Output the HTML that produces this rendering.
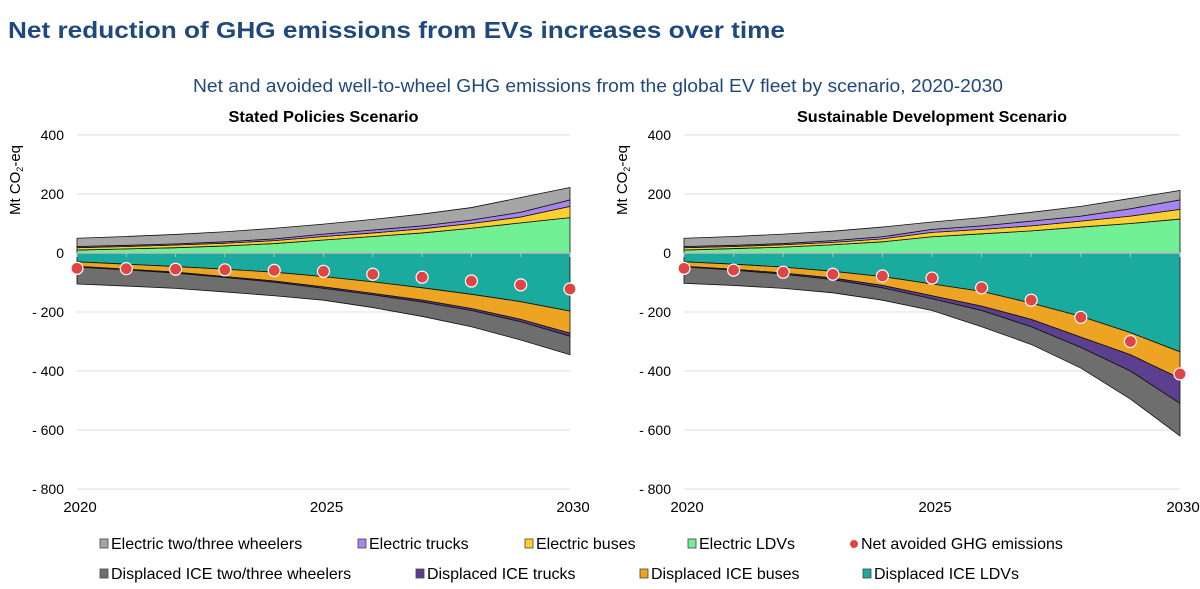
<!DOCTYPE html>
<html><head><meta charset="utf-8"><style>
body{margin:0;background:#fff;}
svg{display:block;font-family:"Liberation Sans",Arial,sans-serif;}
</style></head><body>
<svg id="chart" width="1200" height="589" viewBox="0 0 1200 589" xmlns="http://www.w3.org/2000/svg">
<text x="8" y="38" font-size="23" font-weight="bold" fill="#1f497d" textLength="777" lengthAdjust="spacingAndGlyphs">Net reduction of GHG emissions from EVs increases over time</text>
<text x="193" y="92" font-size="18" fill="#1f497d" textLength="810" lengthAdjust="spacingAndGlyphs">Net and avoided well-to-wheel GHG emissions from the global EV fleet by scenario, 2020-2030</text>
<g id="panels"></g>
<g id="legend"></g>
</svg>
<script>
const years=[2020,2021,2022,2023,2024,2025,2026,2027,2028,2029,2030];
const yTicks=[400,200,0,-200,-400,-600,-800];
const yTickLabels=["400","200","0","- 200","- 400","- 600","- 800"];
const xTickLabels=["2020","2025","2030"];
const seriesNames=["Electric LDVs","Electric buses","Electric trucks","Electric two/three wheelers","Displaced ICE LDVs","Displaced ICE buses","Displaced ICE trucks","Displaced ICE two/three wheelers"];
const colors=["#72f096","#fdd032","#a884ef","#a6a6a6","#1aaa9e","#eea423","#5c3f8e","#6e6e6e"];
// Stated Policies
const stepsLDV=[10,14,18,24,32,44,56,68,84,102,120];
const stepsBus=[8,8,9,9,10,12,12,14,16,20,38];
const stepsTruck=[4,4,4,5,6,8,10,10,12,16,22];
const steps23=[28,30,32,34,36,34,36,40,42,50,42];
const stepsIceLDV=[-30,-38,-46,-55,-65,-80,-98,-118,-140,-165,-197];
const stepsIceBus=[-15,-17,-19,-25,-30,-35,-39,-42,-48,-60,-75];
const stepsIceTruck=[-3,-2,-3,-3,-4,-5,-5,-6,-7,-8,-10];
const stepsIce23=[-57,-55,-52,-49,-46,-40,-43,-49,-55,-62,-63];
const stepsNet=[-52,-53,-55,-57,-59,-62,-72,-82,-95,-108,-122];
// Sustainable Development
const sdsLDV=[10,15,20,28,38,55,65,75,88,100,115];
const sdsBus=[8,7,8,8,10,15,15,17,20,25,33];
const sdsTruck=[4,4,4,6,7,10,12,16,17,25,32];
const sds23=[28,30,32,32,33,25,28,30,33,35,32];
const sdsIceLDV=[-30,-38,-48,-62,-80,-105,-130,-170,-215,-270,-335];
const sdsIceBus=[-15,-17,-20,-23,-30,-40,-50,-55,-70,-75,-90];
const sdsIceTruck=[-2,-3,-4,-5,-8,-10,-15,-25,-35,-55,-85];
const sdsIce23=[-56,-52,-48,-45,-42,-40,-55,-60,-70,-95,-110];
const sdsNet=[-52,-58,-65,-72,-78,-85,-118,-160,-218,-300,-410];

const NS="http://www.w3.org/2000/svg";
function mk(tag,attrs,parent){const e=document.createElementNS(NS,tag);for(const k in attrs)e.setAttribute(k,attrs[k]);parent.appendChild(e);return e;}
const panelsG=document.getElementById('panels');
const yScale=v=>253-(v)*59/200;
function drawPanel(x0,x1,title,titleLen,pos,neg,net,id){
  const g=mk('g',{},panelsG);
  
  
  const xScale=yr=>x0+(yr-2020)*(x1-x0)/10;
  const t=mk('text',{x:(x0+x1)/2,y:122,'font-size':16,'font-weight':'bold','text-anchor':'middle',fill:'#000',textLength:titleLen,lengthAdjust:'spacingAndGlyphs'},g);
  t.textContent=title;
  
  
  yTicks.forEach((v,i)=>{
    const l=mk('line',{x1:x0,x2:x1,y1:yScale(v),y2:yScale(v),stroke:'#dcdcdc','stroke-width':1},g);
    
    
    const tx=mk('text',{x:x0-13,y:yScale(v)+5,'font-size':14,'text-anchor':'end',fill:'#000'},g);
    tx.textContent=yTickLabels[i];
    
    
  });
  const yl=mk('text',{transform:`translate(${x0-57},180) rotate(-90)`,'font-size':15,'text-anchor':'middle',fill:'#000'},g);
  yl.innerHTML='Mt CO<tspan font-size="9" dy="3">2</tspan><tspan dy="-3">-eq</tspan>';
  
  
  [2020,2025,2030].forEach((yr,i)=>{
    const tx=mk('text',{x:xScale(yr)+3,y:512,'font-size':15,'text-anchor':'middle',fill:'#000'},g);
    tx.textContent=xTickLabels[i];
    
    
  });
  function stack(list,offset){
    let base=years.map(()=>0);
    list.forEach((arr,si)=>{
      const top=base.map((b,i)=>b+arr[i]);
      let d='M'+years.map((yr,i)=>xScale(yr)+','+yScale(top[i])).join(' L');
      d+=' L'+years.slice().reverse().map((yr,j)=>{const i=years.length-1-j;return xScale(yr)+','+yScale(base[i]);}).join(' L')+'Z';
      const p=mk('path',{d:d,fill:colors[si+offset],stroke:'#111','stroke-width':0.8},g);
      
      
      base=top;
    });
  }
  stack(pos,0);stack(neg,4);
  const zl=mk('line',{x1:x0,x2:x1,y1:yScale(0),y2:yScale(0),stroke:'#bbb','stroke-width':1.5},g);
  
  
  years.forEach((yr,i)=>{
    const tk=mk('line',{x1:xScale(yr),x2:xScale(yr),y1:yScale(0),y2:yScale(0)+4,stroke:'#bbb'},g);
    
    
  });
  net.forEach((v,i)=>{
    const c=mk('circle',{cx:xScale(years[i]),cy:yScale(v),r:6,fill:'#e04444',stroke:'#fff','stroke-width':1.2},g);
    
    
  });
}
drawPanel(77,570,'Stated Policies Scenario',190,[stepsLDV,stepsBus,stepsTruck,steps23],[stepsIceLDV,stepsIceBus,stepsIceTruck,stepsIce23],stepsNet,'steps');
drawPanel(684,1180,'Sustainable Development Scenario',270,[sdsLDV,sdsBus,sdsTruck,sds23],[sdsIceLDV,sdsIceBus,sdsIceTruck,sdsIce23],sdsNet,'sds');

const lg=document.getElementById('legend');
const legendItems=[
 [104,544,'#a6a6a6','Electric two/three wheelers','sq'],
 [362,544,'#a884ef','Electric trucks','sq'],
 [529,544,'#fdd032','Electric buses','sq'],
 [692,544,'#72f096','Electric LDVs','sq'],
 [854,544,'#e04444','Net avoided GHG emissions','dot'],
 [104,574,'#6e6e6e','Displaced ICE two/three wheelers','sq'],
 [420,574,'#5c3f8e','Displaced ICE trucks','sq'],
 [644,574,'#eea423','Displaced ICE buses','sq'],
 [867,574,'#1aaa9e','Displaced ICE LDVs','sq']];
legendItems.forEach(it=>{
  const g=mk('g',{},lg);
  
  
  if(it[4]==='sq') mk('rect',{x:it[0]-4,y:it[1]-5,width:8,height:9,fill:it[2],stroke:'#444','stroke-width':0.8},g);
  else mk('circle',{cx:it[0],cy:it[1],r:4,fill:it[2]},g);
  const t=mk('text',{x:it[0]+7,y:it[1]+5,'font-size':16,fill:'#000'},g);
  t.textContent=it[3];
});
</script>
</body></html>
